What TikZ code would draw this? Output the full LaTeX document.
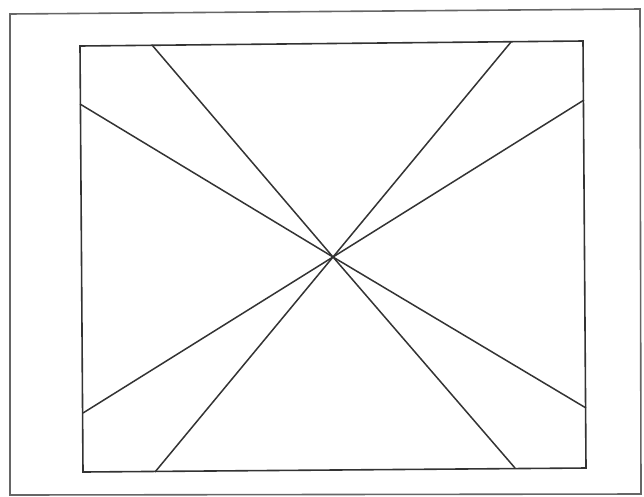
\documentclass[tikz,border=0pt]{standalone}
\begin{document}
\begin{tikzpicture}[x=1pt,y=-1pt,
  frame/.style={draw=black!60,line width=1.6pt},
  inner/.style={draw=black!80,line width=1.6pt,line join=miter},
  ray/.style={draw=black!80,line width=1.5pt}]
\useasboundingbox (0,0) rectangle (644,496);
% outer frame
\draw[frame] (10,14) -- (640,9) -- (641,494) -- (10,495) -- cycle;
% inner rectangle corners
\coordinate (tl) at (80,46);
\coordinate (tr) at (583,41);
\coordinate (br) at (586,468);
\coordinate (bl) at (83,472);
\draw[inner] (tl) -- (tr) -- (br) -- (bl) -- cycle;
% centre
\coordinate (c) at (333,257);
% ray end points
\coordinate (a1) at (152,45);
\coordinate (a2) at (515,468);
\coordinate (b1) at (511,42);
\coordinate (b2) at (155,472);
\coordinate (c1) at (80,104);
\coordinate (c2) at (586,408);
\coordinate (d1) at (584,100);
\coordinate (d2) at (83,413);
\draw[ray] (a1) -- (c) -- (a2);
\draw[ray] (b1) -- (c) -- (b2);
\draw[ray] (c1) -- (c) -- (c2);
\draw[ray] (d1) -- (c) -- (d2);
\end{tikzpicture}
\end{document}
